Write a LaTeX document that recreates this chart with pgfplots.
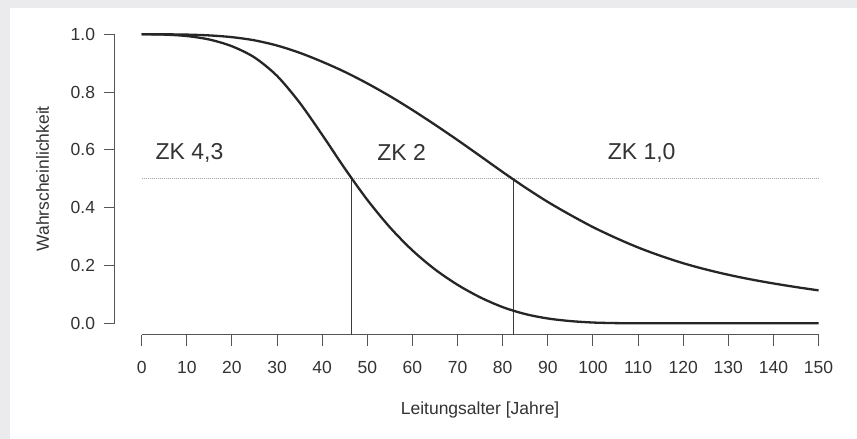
\documentclass[border=0pt]{standalone}
\usepackage{pgfplots}
\pgfplotsset{compat=1.18}
\usepackage{fontspec}
\setmainfont{Liberation Sans}
\definecolor{bggray}{HTML}{EBEBED}
\definecolor{curve}{HTML}{262626}
\definecolor{axcol}{HTML}{555555}
\begin{document}
\begin{tikzpicture}[x=1pt,y=1pt]
\fill[bggray] (0,0) rectangle (857,439);
\fill[white] (10,0) rectangle (857,431);
\begin{axis}[
  at={(114.6pt,104.1pt)}, anchor=south west,
  scale only axis, width=731pt, height=312.2pt,
  xmin=-6, xmax=156, ymin=-0.04, ymax=1.04,
  axis x line*=bottom, axis y line*=left,
  axis line style={draw=none},
  tick align=outside, major tick length=11pt,
  tick style={axcol, line width=1pt},
  xtick={0,10,...,150}, ytick={0,0.2,0.4,0.6,0.8,1.0},
  /pgf/number format/assume math mode=true,
  yticklabel={\pgfmathprintnumber[fixed,fixed zerofill,precision=1]{\tick}},
  ticklabel style={font=\fontsize{17.5}{20}\selectfont, text=black!80},
  xticklabel style={yshift=-12pt},
  yticklabel style={xshift=-5pt},
  xlabel={Leitungsalter [Jahre]}, ylabel={Wahrscheinlichkeit},
  label style={font=\fontsize{17.5}{20}\selectfont, text=black!80},
  xlabel style={at={(axis description cs:0.5,-0.24)}, anchor=center},
  ylabel style={at={(axis description cs:-0.0985,0.5)}, anchor=center},
  clip=false,
]
\draw[axcol, line width=1.2pt] (axis cs:0,-0.04) -- (axis cs:150,-0.04);
\draw[axcol, line width=1.2pt] (axis cs:-6,0) -- (axis cs:-6,1);
\addplot[gray!70, densely dotted, line width=1pt] coordinates {(0,0.5) (150,0.5)};
\addplot[curve!90, line width=1pt] coordinates {(46.6,0.5) (46.6,-0.04)};
\addplot[curve!90, line width=1pt] coordinates {(82.3,0.5) (82.3,-0.04)};
\addplot[curve, line width=2.3pt, smooth] coordinates {
(0,1.0) (5,0.9988) (10,0.9938) (15,0.9818) (20,0.9585) (25,0.9198) (30,0.856)
(35,0.7635) (40,0.6523) (45,0.536) (50,0.4273) (55,0.3323) (60,0.2523)
(65,0.1866) (70,0.1333) (75,0.0901) (80,0.0561) (85,0.0321) (90,0.0168)
(95,0.0078) (100,0.0028) (105,0.0008) (110,0.0002) (120,0) (135,0) (150,0)};
\addplot[curve, line width=2.3pt, smooth] coordinates {
(0,1.0) (5,0.9998) (10,0.9988) (15,0.996) (20,0.990) (25,0.979) (30,0.961)
(35,0.936) (40,0.905) (45,0.870) (50,0.830) (55,0.786) (60,0.738) (65,0.687)
(70,0.634) (75,0.579) (80,0.5235) (85,0.470) (90,0.420) (95,0.375) (100,0.333)
(105,0.296) (110,0.2625) (115,0.2335) (120,0.208) (125,0.1865) (130,0.168)
(135,0.152) (140,0.138) (145,0.1255) (150,0.114)};
\node[font=\fontsize{23}{26}\selectfont, text=black!80] at (axis cs:10.6,0.59) {ZK 4,3};
\node[font=\fontsize{23}{26}\selectfont, text=black!80] at (axis cs:57.6,0.59) {ZK 2};
\node[font=\fontsize{23}{26}\selectfont, text=black!80] at (axis cs:110.8,0.59) {ZK 1,0};
\end{axis}
\end{tikzpicture}
\end{document}
